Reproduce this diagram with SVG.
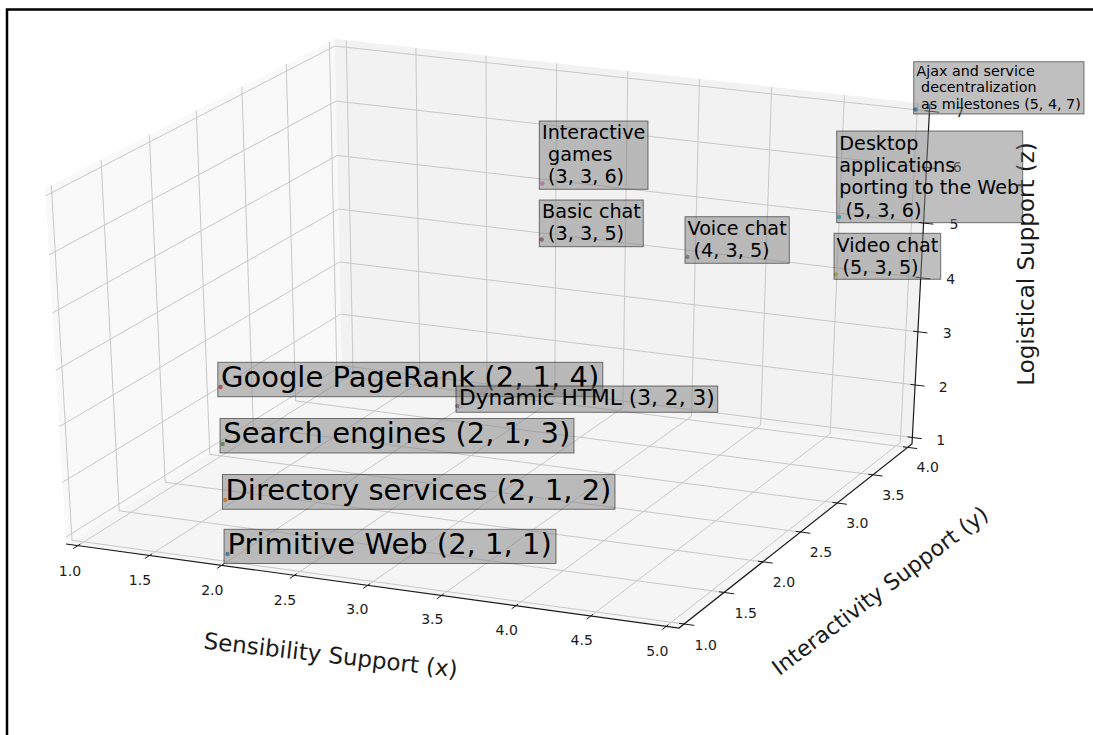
<svg xmlns="http://www.w3.org/2000/svg" width="1093" height="735" viewBox="0 0 1093 735">
<style>
.pane{stroke:none}
.grid{fill:none;stroke:#c8c8c8;stroke-width:1}
.axis{fill:none;stroke:#1a1a1a;stroke-width:1.2}
.tick{stroke:#1a1a1a;stroke-width:1}
.tl{font-family:'DejaVu Sans','Liberation Sans',sans-serif;font-size:14px;fill:#1a1a1a;text-anchor:middle}
.al{font-family:'DejaVu Sans','Liberation Sans',sans-serif;font-size:23px;fill:#1a1a1a;text-anchor:middle}
.box{fill:#808080;fill-opacity:0.5;stroke:#000;stroke-opacity:0.5;stroke-width:1}
.lbl{font-family:'DejaVu Sans','Liberation Sans',sans-serif;fill:#000}
.big{font-size:29px}
.mid{font-size:19.2px}
</style>
<rect width="1093" height="735" fill="#fff"/>
<path d="M7,735 V9.5 H1093" fill="none" stroke="#000" stroke-width="2.5"/>
<g id="panes">
<polygon class="pane" fill="#f9f9f9" points="66,544 342,372 334.7,39.07 45.03,188.48"/>
<polygon class="pane" fill="#f2f2f2" points="342,372 912,444 929.83,104.15 334.7,39.07"/>
<polygon class="pane" fill="#f5f5f5" points="66,544 679,628 912,444 342,372"/>
</g>
<g id="gridlines">
<polyline class="grid" points="346.26,40.33 353.08,373.40 77.89,545.63"/>
<polyline class="grid" points="415.90,47.95 419.85,381.84 149.54,555.45"/>
<polyline class="grid" points="486.03,55.62 487.08,390.33 221.72,565.34"/>
<polyline class="grid" points="556.67,63.34 554.76,398.88 294.44,575.31"/>
<polyline class="grid" points="627.81,71.12 622.91,407.49 367.71,585.35"/>
<polyline class="grid" points="699.46,78.95 691.54,416.15 441.53,595.46"/>
<polyline class="grid" points="771.64,86.85 760.63,424.88 515.91,605.65"/>
<polyline class="grid" points="844.34,94.80 830.21,433.67 590.85,615.92"/>
<polyline class="grid" points="917.56,102.80 900.27,442.52 666.35,626.27"/>
<polyline class="grid" points="51.34,185.22 72.00,540.26 684.08,624.00"/>
<polyline class="grid" points="101.04,159.59 119.21,510.84 724.01,592.46"/>
<polyline class="grid" points="149.33,134.68 165.13,482.22 762.83,561.81"/>
<polyline class="grid" points="196.25,110.48 209.82,454.38 800.56,532.01"/>
<polyline class="grid" points="241.86,86.95 253.31,427.27 837.26,503.02"/>
<polyline class="grid" points="286.23,64.08 295.66,400.88 872.97,474.83"/>
<polyline class="grid" points="329.39,41.81 336.92,375.17 907.72,447.38"/>
<polyline class="grid" points="912.34,437.49 341.86,365.62 65.60,537.20"/>
<polyline class="grid" points="915.10,384.97 340.73,314.11 62.37,482.38"/>
<polyline class="grid" points="917.89,331.74 339.59,261.93 59.08,426.77"/>
<polyline class="grid" points="920.72,277.77 338.43,209.05 55.75,370.33"/>
<polyline class="grid" points="923.59,223.03 337.26,155.45 52.38,313.06"/>
<polyline class="grid" points="926.50,167.54 336.06,101.10 48.95,254.92"/>
<polyline class="grid" points="929.45,111.23 334.86,46.00 45.47,195.92"/>
</g>
<g id="axes">
<polyline class="axis" points="66,544 679,628 912,444 929.83,104.15"/>
<g id="ticks">
<line class="tick" x1="73.09" y1="548.63" x2="80.28" y2="544.13"/>
<line class="tick" x1="144.82" y1="558.48" x2="151.89" y2="553.94"/>
<line class="tick" x1="217.09" y1="568.39" x2="224.03" y2="563.82"/>
<line class="tick" x1="289.90" y1="578.38" x2="296.71" y2="573.77"/>
<line class="tick" x1="363.26" y1="588.45" x2="369.93" y2="583.80"/>
<line class="tick" x1="437.16" y1="598.59" x2="443.71" y2="593.90"/>
<line class="tick" x1="511.63" y1="608.81" x2="518.03" y2="604.08"/>
<line class="tick" x1="586.67" y1="619.11" x2="592.93" y2="614.33"/>
<line class="tick" x1="662.27" y1="629.48" x2="668.44" y2="624.67"/>
<line class="tick" x1="679.02" y1="623.30" x2="694.18" y2="625.38"/>
<line class="tick" x1="719.03" y1="591.78" x2="734.00" y2="593.80"/>
<line class="tick" x1="757.90" y1="561.15" x2="772.69" y2="563.12"/>
<line class="tick" x1="795.69" y1="531.37" x2="810.31" y2="533.29"/>
<line class="tick" x1="832.45" y1="502.40" x2="846.89" y2="504.27"/>
<line class="tick" x1="868.21" y1="474.22" x2="882.51" y2="476.05"/>
<line class="tick" x1="903.02" y1="446.79" x2="917.14" y2="448.57"/>
<line class="tick" x1="907.65" y1="436.90" x2="921.74" y2="438.68"/>
<line class="tick" x1="910.37" y1="384.39" x2="924.56" y2="386.14"/>
<line class="tick" x1="913.13" y1="331.17" x2="927.42" y2="332.89"/>
<line class="tick" x1="915.91" y1="277.21" x2="930.32" y2="278.90"/>
<line class="tick" x1="918.76" y1="222.47" x2="933.26" y2="224.15"/>
<line class="tick" x1="921.63" y1="166.99" x2="936.25" y2="168.63"/>
<line class="tick" x1="924.55" y1="110.70" x2="939.27" y2="112.31"/>
</g>
<g id="ticklabels">
<text class="tl" x="70" y="575.7">1.0</text>
<text class="tl" x="140" y="585">1.5</text>
<text class="tl" x="212.3" y="595">2.0</text>
<text class="tl" x="285" y="605">2.5</text>
<text class="tl" x="357.3" y="614.3">3.0</text>
<text class="tl" x="432.3" y="624.3">3.5</text>
<text class="tl" x="506.7" y="635">4.0</text>
<text class="tl" x="581.7" y="645">4.5</text>
<text class="tl" x="657.3" y="655.7">5.0</text>
<text class="tl" x="705.7" y="650">1.0</text>
<text class="tl" x="745.7" y="617.7">1.5</text>
<text class="tl" x="784" y="586.7">2.0</text>
<text class="tl" x="821" y="556.7">2.5</text>
<text class="tl" x="857.3" y="527.7">3.0</text>
<text class="tl" x="893.3" y="500">3.5</text>
<text class="tl" x="927.7" y="471.7">4.0</text>
<text class="tl" x="940.7" y="445">1</text>
<text class="tl" x="943.3" y="391.7">2</text>
<text class="tl" x="947.3" y="338.3">3</text>
<text class="tl" x="950.7" y="284.3">4</text>
<text class="tl" x="954" y="229">5</text>
<text class="tl" x="957.3" y="171.7">6</text>
<text class="tl" x="960" y="116.7">7</text>
</g>
<g id="axislabels">
<text class="al" transform="translate(330.5,657) rotate(6.5)" x="0" y="6">Sensibility Support (x)</text>
<text class="al" transform="translate(881,592) rotate(-37)" x="0" y="6" style="font-size:22px">Interactivity Support (y)</text>
<text class="al" transform="translate(1028,264) rotate(-90)" x="0" y="6">Logistical Support (z)</text>
</g>
</g>
<g id="connectors"></g>
<g id="markers">
<circle cx="227.5" cy="554" r="2.2" fill="#1f77b4"/>
<circle cx="225.3" cy="500" r="2.2" fill="#ff7f0e"/>
<circle cx="222.7" cy="444" r="2.2" fill="#2ca02c"/>
<circle cx="220.5" cy="387" r="2.2" fill="#d62728"/>
<circle cx="457.5" cy="406" r="2.2" fill="#9467bd"/>
<circle cx="541.7" cy="239.5" r="2.2" fill="#8c564b"/>
<circle cx="542.3" cy="183.5" r="2.2" fill="#e377c2"/>
<circle cx="687.3" cy="257" r="2.2" fill="#7f7f7f"/>
<circle cx="836" cy="274.5" r="2.2" fill="#bcbd22"/>
<circle cx="839" cy="217" r="2.2" fill="#17becf"/>
<circle cx="915.5" cy="109.5" r="2.2" fill="#1f77b4"/>
</g>
<g id="node-primitive-web">
<rect class="box" x="224" y="529.3" width="332" height="34.2"/>
<text class="lbl big" x="227.5" y="554">Primitive Web (2, 1, 1)</text>
</g>
<g id="node-directory-services">
<rect class="box" x="222.5" y="474.5" width="392.5" height="34.8"/>
<text class="lbl big" x="225.5" y="499.5">Directory services (2, 1, 2)</text>
</g>
<g id="node-search-engines">
<rect class="box" x="220" y="418.5" width="354" height="34.5"/>
<text class="lbl big" x="223.3" y="443.3">Search engines (2, 1, 3)</text>
</g>
<g id="node-google-pagerank">
<rect class="box" x="217.8" y="362.3" width="385" height="34.4"/>
<text class="lbl big" x="221" y="387">Google PageRank (2, 1, 4)</text>
</g>
<g id="node-dynamic-html">
<rect class="box" x="456" y="386" width="261.7" height="26.3"/>
<text class="lbl" style="font-size:21.7px" x="459" y="405">Dynamic HTML (3, 2, 3)</text>
</g>
<g id="node-basic-chat">
<rect class="box" x="539.3" y="200" width="104" height="46.7"/>
<text class="lbl mid"><tspan x="542" y="218.3">Basic chat</tspan><tspan x="548.1" y="239.5">(3, 3, 5)</tspan></text>
</g>
<g id="node-interactive-games">
<rect class="box" x="539.3" y="121" width="108.7" height="68.3"/>
<text class="lbl mid"><tspan x="542" y="139.3">Interactive</tspan><tspan x="548.1" y="161.3">games</tspan><tspan x="548.1" y="183.3">(3, 3, 6)</tspan></text>
</g>
<g id="node-voice-chat">
<rect class="box" x="685" y="216.7" width="104.3" height="46.6"/>
<text class="lbl mid"><tspan x="687.5" y="235">Voice chat</tspan><tspan x="693.6" y="256.8">(4, 3, 5)</tspan></text>
</g>
<g id="node-video-chat">
<rect class="box" x="834" y="233.3" width="106.7" height="46"/>
<text class="lbl mid"><tspan x="836.5" y="251.7">Video chat</tspan><tspan x="842.6" y="274.2">(5, 3, 5)</tspan></text>
</g>
<g id="node-desktop-apps">
<rect class="box" x="836.7" y="131" width="186" height="91.7"/>
<text class="lbl mid"><tspan x="839.3" y="150">Desktop</tspan><tspan x="839.3" y="172">applications</tspan><tspan x="839.3" y="194.4">porting to the Web</tspan><tspan x="845.4" y="216.7">(5, 3, 6)</tspan></text>
</g>
<g id="node-ajax">
<rect class="box" x="913.7" y="61.7" width="170.3" height="52.3"/>
<text class="lbl" style="font-size:14.3px"><tspan x="916.5" y="76">Ajax and service</tspan><tspan x="921.1" y="92.3">decentralization</tspan><tspan x="921.1" y="108.7">as milestones (5, 4, 7)</tspan></text>
</g>
</svg>
